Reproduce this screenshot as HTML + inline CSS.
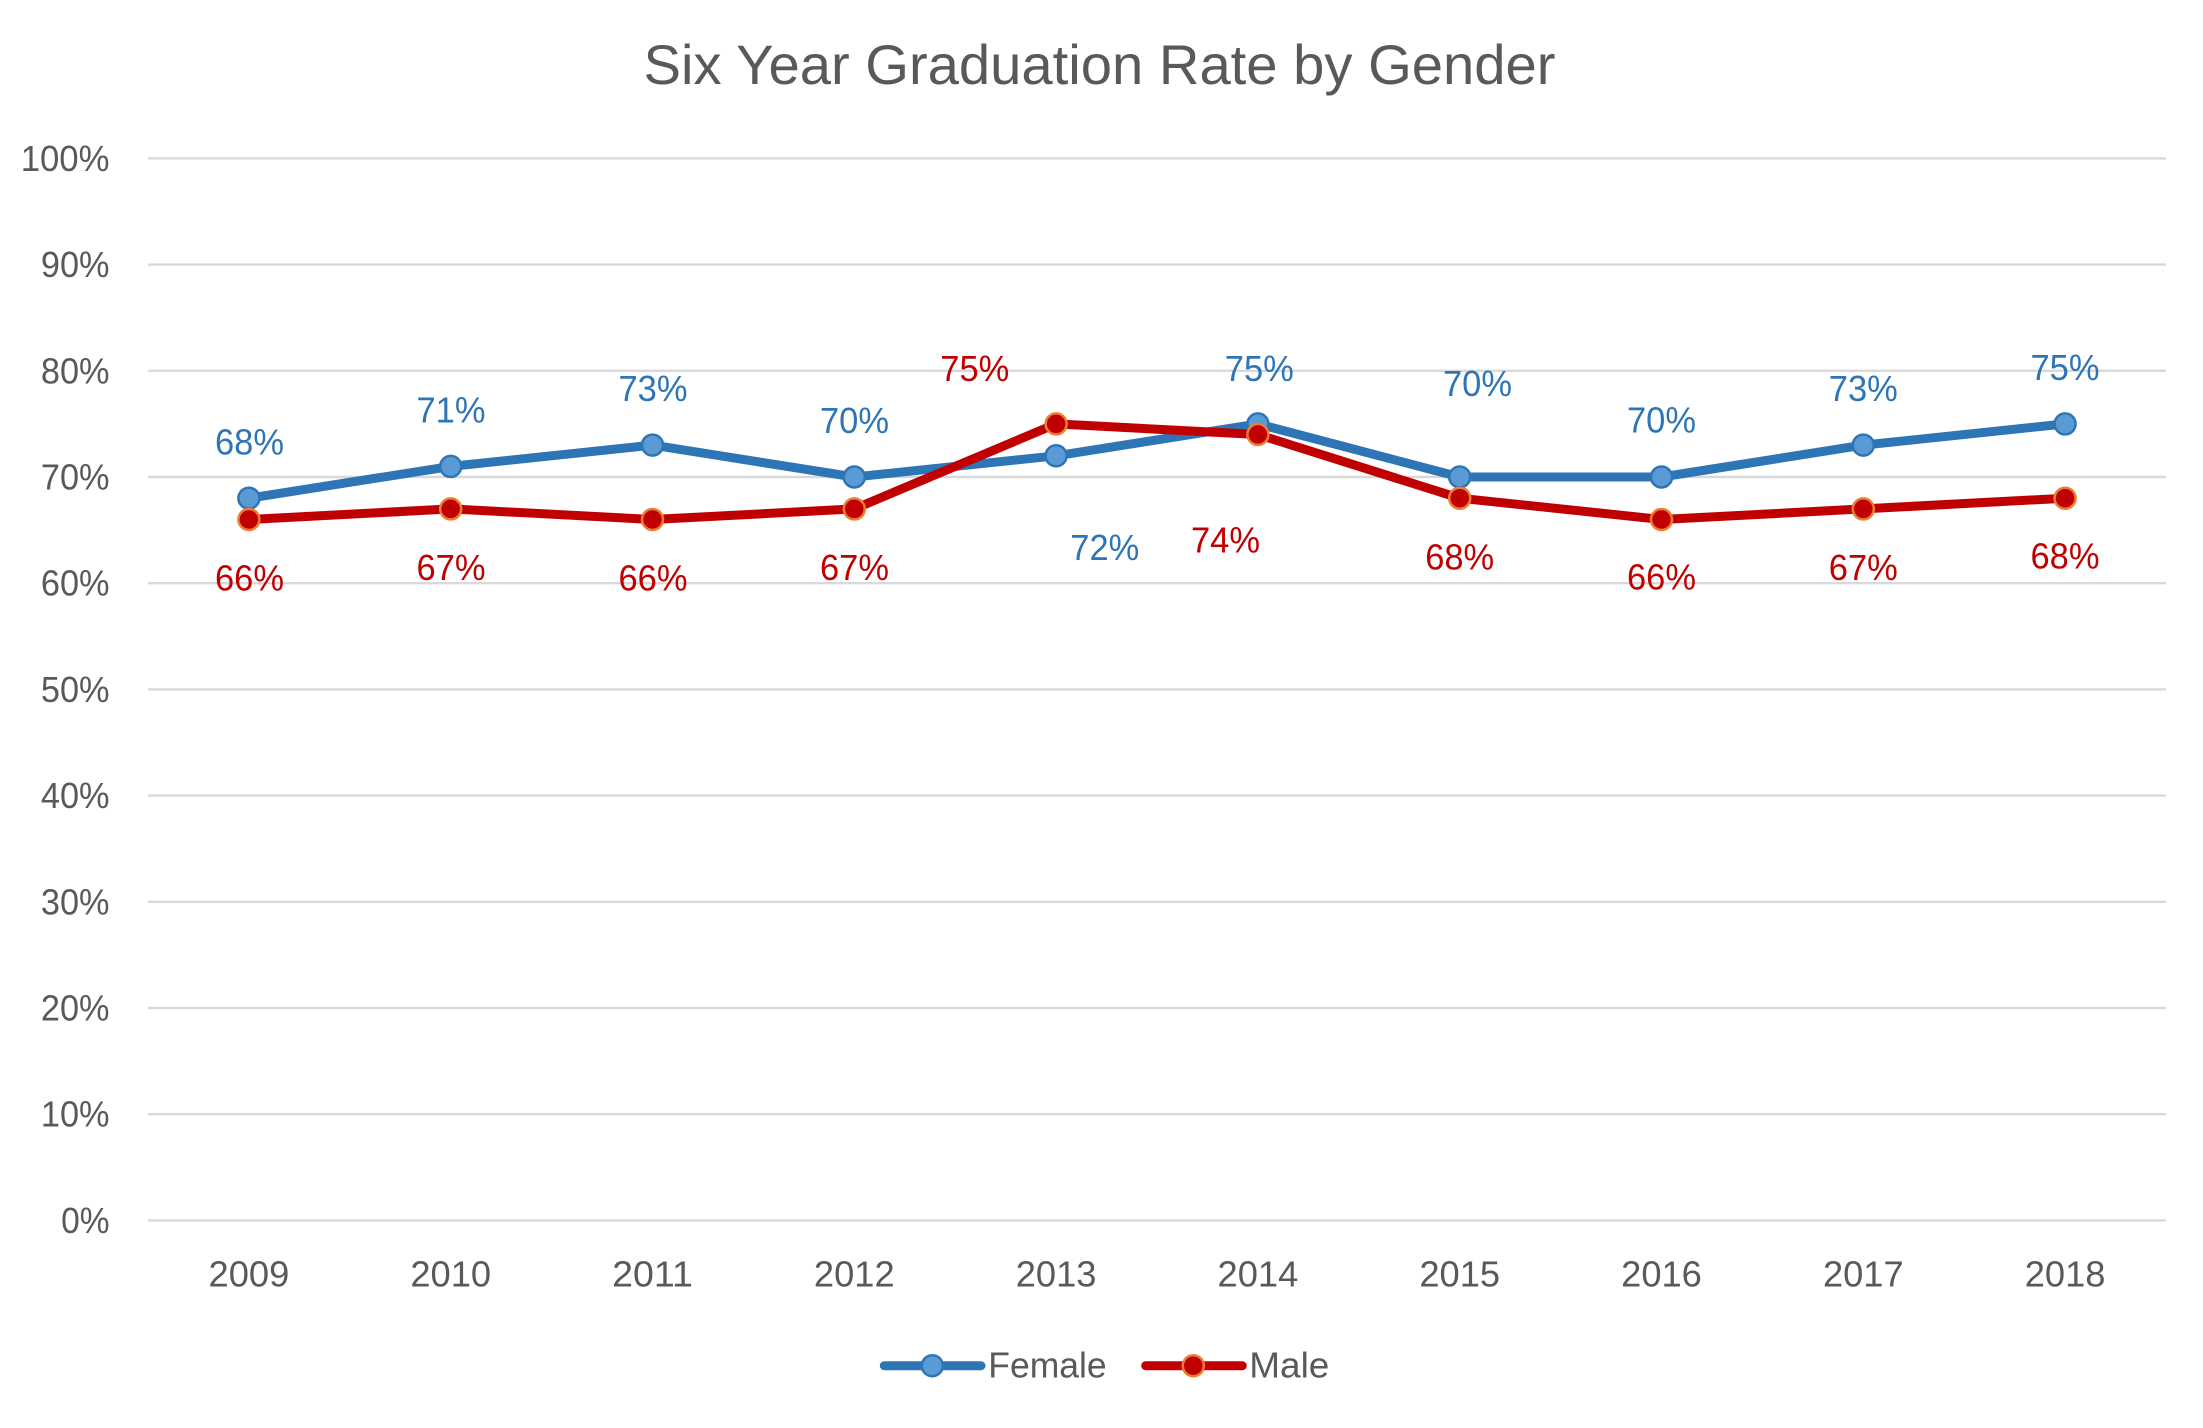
<!DOCTYPE html>
<html>
<head>
<meta charset="utf-8">
<style>
html,body{margin:0;padding:0;background:#fff;}
svg{display:block;}
text{font-family:"Liberation Sans",Arial,sans-serif;}
</style>
</head>
<body>
<svg width="2203" height="1428" viewBox="0 0 2203 1428" xmlns="http://www.w3.org/2000/svg">
<rect width="2203" height="1428" fill="#fff"/>
<!-- title -->
<text x="1099.5" y="84.2" font-size="56" fill="#595959" text-anchor="middle" textLength="912" lengthAdjust="spacingAndGlyphs">Six Year Graduation Rate by Gender</text>
<!-- gridlines -->
<g stroke="#d9d9d9" stroke-width="2.4">
<line x1="148" x2="2166" y1="1220.4" y2="1220.4"/>
<line x1="148" x2="2166" y1="1114.2" y2="1114.2"/>
<line x1="148" x2="2166" y1="1008" y2="1008"/>
<line x1="148" x2="2166" y1="901.8" y2="901.8"/>
<line x1="148" x2="2166" y1="795.6" y2="795.6"/>
<line x1="148" x2="2166" y1="689.4" y2="689.4"/>
<line x1="148" x2="2166" y1="583.2" y2="583.2"/>
<line x1="148" x2="2166" y1="477" y2="477"/>
<line x1="148" x2="2166" y1="370.8" y2="370.8"/>
<line x1="148" x2="2166" y1="264.6" y2="264.6"/>
<line x1="148" x2="2166" y1="158.4" y2="158.4"/>
</g>
<!-- y labels -->
<g font-size="36" fill="#595959" text-anchor="end" lengthAdjust="spacingAndGlyphs">
<text x="109.5" y="1232.9" textLength="48.4" lengthAdjust="spacingAndGlyphs">0%</text>
<text x="109.5" y="1126.7" textLength="68.6" lengthAdjust="spacingAndGlyphs">10%</text>
<text x="109.5" y="1020.5" textLength="68.6" lengthAdjust="spacingAndGlyphs">20%</text>
<text x="109.5" y="914.3" textLength="68.6" lengthAdjust="spacingAndGlyphs">30%</text>
<text x="109.5" y="808.1" textLength="68.6" lengthAdjust="spacingAndGlyphs">40%</text>
<text x="109.5" y="701.9" textLength="68.6" lengthAdjust="spacingAndGlyphs">50%</text>
<text x="109.5" y="595.7" textLength="68.6" lengthAdjust="spacingAndGlyphs">60%</text>
<text x="109.5" y="489.5" textLength="68.6" lengthAdjust="spacingAndGlyphs">70%</text>
<text x="109.5" y="383.3" textLength="68.6" lengthAdjust="spacingAndGlyphs">80%</text>
<text x="109.5" y="277.1" textLength="68.6" lengthAdjust="spacingAndGlyphs">90%</text>
<text x="109.5" y="170.9" textLength="88.8" lengthAdjust="spacingAndGlyphs">100%</text>
</g>
<!-- x labels -->
<g font-size="36" fill="#595959" text-anchor="middle">
<text x="248.9" y="1286.7" textLength="80.7" lengthAdjust="spacingAndGlyphs">2009</text>
<text x="450.7" y="1286.7" textLength="80.7" lengthAdjust="spacingAndGlyphs">2010</text>
<text x="652.5" y="1286.7" textLength="80.7" lengthAdjust="spacingAndGlyphs">2011</text>
<text x="854.3" y="1286.7" textLength="80.7" lengthAdjust="spacingAndGlyphs">2012</text>
<text x="1056.1" y="1286.7" textLength="80.7" lengthAdjust="spacingAndGlyphs">2013</text>
<text x="1257.9" y="1286.7" textLength="80.7" lengthAdjust="spacingAndGlyphs">2014</text>
<text x="1459.7" y="1286.7" textLength="80.7" lengthAdjust="spacingAndGlyphs">2015</text>
<text x="1661.5" y="1286.7" textLength="80.7" lengthAdjust="spacingAndGlyphs">2016</text>
<text x="1863.3" y="1286.7" textLength="80.7" lengthAdjust="spacingAndGlyphs">2017</text>
<text x="2065.1" y="1286.7" textLength="80.7" lengthAdjust="spacingAndGlyphs">2018</text>
</g>
<!-- Female series -->
<polyline fill="none" stroke="#2e75b6" stroke-width="9" stroke-linejoin="round" stroke-linecap="round"
 points="248.9,498.2 450.7,466.4 652.5,445.1 854.3,477 1056.1,455.8 1257.9,423.9 1459.7,477 1661.5,477 1863.3,445.1 2065.1,423.9"/>
<g fill="#5b9bd5" stroke="#2e75b6" stroke-width="2.5">
<circle cx="248.9" cy="498.2" r="10.5"/>
<circle cx="450.7" cy="466.4" r="10.5"/>
<circle cx="652.5" cy="445.1" r="10.5"/>
<circle cx="854.3" cy="477" r="10.5"/>
<circle cx="1056.1" cy="455.8" r="10.5"/>
<circle cx="1257.9" cy="423.9" r="10.5"/>
<circle cx="1459.7" cy="477" r="10.5"/>
<circle cx="1661.5" cy="477" r="10.5"/>
<circle cx="1863.3" cy="445.1" r="10.5"/>
<circle cx="2065.1" cy="423.9" r="10.5"/>
</g>
<!-- Male series -->
<polyline fill="none" stroke="#c00000" stroke-width="9" stroke-linejoin="round" stroke-linecap="round"
 points="248.9,519.5 450.7,508.9 652.5,519.5 854.3,508.9 1056.1,423.9 1257.9,434.5 1459.7,498.2 1661.5,519.5 1863.3,508.9 2065.1,498.2"/>
<g fill="#c00000" stroke="#ed7d31" stroke-width="2.5">
<circle cx="248.9" cy="519.5" r="10.5"/>
<circle cx="450.7" cy="508.9" r="10.5"/>
<circle cx="652.5" cy="519.5" r="10.5"/>
<circle cx="854.3" cy="508.9" r="10.5"/>
<circle cx="1056.1" cy="423.9" r="10.5"/>
<circle cx="1257.9" cy="434.5" r="10.5"/>
<circle cx="1459.7" cy="498.2" r="10.5"/>
<circle cx="1661.5" cy="519.5" r="10.5"/>
<circle cx="1863.3" cy="508.9" r="10.5"/>
<circle cx="2065.1" cy="498.2" r="10.5"/>
</g>
<!-- Female data labels -->
<g font-size="36" fill="#2e75b6" text-anchor="middle">
<text x="249.5" y="454.3" textLength="69" lengthAdjust="spacingAndGlyphs">68%</text>
<text x="451" y="422.4" textLength="69" lengthAdjust="spacingAndGlyphs">71%</text>
<text x="653" y="401.1" textLength="69" lengthAdjust="spacingAndGlyphs">73%</text>
<text x="854.5" y="433" textLength="69" lengthAdjust="spacingAndGlyphs">70%</text>
<text x="1104.8" y="560" textLength="69" lengthAdjust="spacingAndGlyphs">72%</text>
<text x="1259.3" y="381" textLength="69" lengthAdjust="spacingAndGlyphs">75%</text>
<text x="1477.5" y="396" textLength="69" lengthAdjust="spacingAndGlyphs">70%</text>
<text x="1661.5" y="432.7" textLength="69" lengthAdjust="spacingAndGlyphs">70%</text>
<text x="1863.3" y="401.1" textLength="69" lengthAdjust="spacingAndGlyphs">73%</text>
<text x="2065" y="380" textLength="69" lengthAdjust="spacingAndGlyphs">75%</text>
</g>
<!-- Male data labels -->
<g font-size="36" fill="#c00000" text-anchor="middle">
<text x="249.5" y="590.5" textLength="69" lengthAdjust="spacingAndGlyphs">66%</text>
<text x="451" y="579.9" textLength="69" lengthAdjust="spacingAndGlyphs">67%</text>
<text x="653" y="590.5" textLength="69" lengthAdjust="spacingAndGlyphs">66%</text>
<text x="854.5" y="579.9" textLength="69" lengthAdjust="spacingAndGlyphs">67%</text>
<text x="974.8" y="381" textLength="69" lengthAdjust="spacingAndGlyphs">75%</text>
<text x="1225.5" y="552.3" textLength="69" lengthAdjust="spacingAndGlyphs">74%</text>
<text x="1459.7" y="569.3" textLength="69" lengthAdjust="spacingAndGlyphs">68%</text>
<text x="1661.5" y="589.3" textLength="69" lengthAdjust="spacingAndGlyphs">66%</text>
<text x="1863.3" y="579.9" textLength="69" lengthAdjust="spacingAndGlyphs">67%</text>
<text x="2065" y="568.3" textLength="69" lengthAdjust="spacingAndGlyphs">68%</text>
</g>
<!-- Legend -->
<line x1="884.3" y1="1365.7" x2="981" y2="1365.7" stroke="#2e75b6" stroke-width="9" stroke-linecap="round"/>
<circle cx="932.3" cy="1365.7" r="10.5" fill="#5b9bd5" stroke="#2e75b6" stroke-width="2.5"/>
<text x="988.3" y="1377.3" font-size="36" fill="#595959" textLength="118.3" lengthAdjust="spacingAndGlyphs">Female</text>
<line x1="1145.7" y1="1365.7" x2="1242.3" y2="1365.7" stroke="#c00000" stroke-width="9" stroke-linecap="round"/>
<circle cx="1193.3" cy="1365.7" r="10.5" fill="#c00000" stroke="#ed7d31" stroke-width="2.5"/>
<text x="1249.3" y="1377.3" font-size="36" fill="#595959" textLength="80" lengthAdjust="spacingAndGlyphs">Male</text>
</svg>
</body>
</html>
